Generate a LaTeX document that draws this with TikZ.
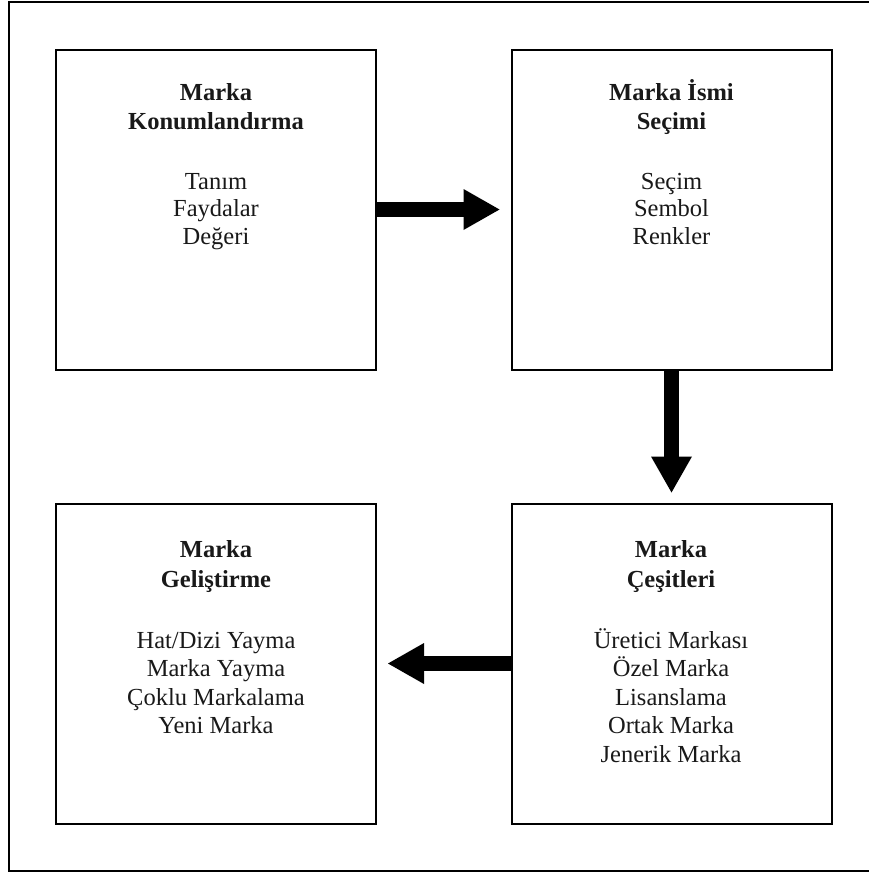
\documentclass[tikz,border=0pt]{standalone}
\usepackage{fontspec}
\setmainfont{Liberation Serif}
\usetikzlibrary{arrows.meta}
\begin{document}
\begin{tikzpicture}[x=1pt,y=-1pt,
  box/.style={draw, line width=2pt, minimum width=320pt, minimum height=320pt, inner sep=0pt},
  ttl/.style={anchor=base, inner sep=0pt, text=black!90, font=\fontsize{24.5}{28}\selectfont\bfseries},
  txt/.style={anchor=base, inner sep=0pt, text=black!90, font=\fontsize{24.5}{28}\selectfont},
  bigarrow/.style={line width=15pt, -{Triangle[length=36pt, width=41pt, line width=0pt]}}]
\useasboundingbox (0,0) rectangle (869,873);
\draw[line width=2pt] (9,2) rectangle (885,871);
\node[box] (tl) at (216,209.5) {};
\node[box] (tr) at (671.5,209.5) {};
\node[box] (bl) at (216,663.5) {};
\node[box] (br) at (671.5,663.5) {};
\draw[bigarrow, shorten >=11pt] (tl.east) -- (tr.west);
\draw[bigarrow, shorten >=10pt] (tr.south) -- (br.north);
\draw[bigarrow, shorten >=11pt] (br.west) -- (bl.east);
% top-left
\node[ttl] (tlt1) at (216,100) {Marka};
\node[ttl] (tlt2) at (216,129) {Konumlandırma};
\foreach \t [count=\i] in {Tanım,Faydalar,Değeri}
  \node[txt] (tlb\i) at (216,{161.5+27.5*\i}) {\t};
% top-right
\node[ttl] (trt1) at (671.5,100) {Marka İsmi};
\node[ttl] (trt2) at (671.5,129.5) {Seçimi};
\foreach \t [count=\i] in {Seçim,Sembol,Renkler}
  \node[txt] (trb\i) at (671.5,{161.5+27.5*\i}) {\t};
% bottom-left
\node[ttl] (blt1) at (216,557) {Marka};
\node[ttl] (blt2) at (216,587) {Geliştirme};
\foreach \t [count=\i] in {Hat/Dizi Yayma,Marka Yayma,Çoklu Markalama,Yeni Marka}
  \node[txt] (blb\i) at (216,{619.5+28.5*\i}) {\t};
% bottom-right
\node[ttl] (brt1) at (671,557) {Marka};
\node[ttl] (brt2) at (671,587) {Çeşitleri};
\foreach \t [count=\i] in {Üretici Markası,Özel Marka,Lisanslama,Ortak Marka,Jenerik Marka}
  \node[txt] (brb\i) at (671,{619.5+28.5*\i}) {\t};
\end{tikzpicture}
\end{document}
